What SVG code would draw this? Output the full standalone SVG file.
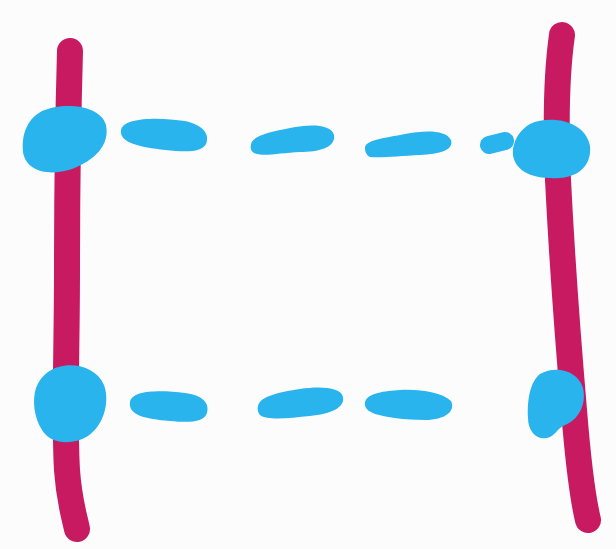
<svg xmlns="http://www.w3.org/2000/svg" width="616" height="549" viewBox="0 0 616 549">
<style>
.rail{fill:none;stroke:#c71a60;stroke-width:26;stroke-linecap:round;stroke-linejoin:round}
.dash{fill:none;stroke:#2ab4ee;stroke-linecap:round}
.blob{fill:#2ab4ee}
</style>
<rect width="616" height="549" fill="#fdfcfc"/>
<g id="rails">
<path class="rail" d="M70,51 C68,120 67,200 67,270 C67,350 64,420 67,470 C69,500 74,515 77,529"/>
<path class="rail" d="M562,35 C557,70 555,110 558,180 C562,260 568,340 574,410 C578,460 582,495 588,520"/>
</g>
<g id="connectors">
<path class="blob" d="M121,130 C123,117 160,117 185,121 C203,125 210,134 206,144 C201,153 185,152 165,150 C140,147 119,143 121,130 Z"/>
<path class="blob" d="M251,145 C251,136 270,132 290,128 C310,124 331,124 334,135 C336,147 320,152 300,152 C280,153 262,157 254,153 C251,151 250,148 251,145 Z"/>
<path class="blob" d="M365,148 C365,140 385,138 405,134 C425,130 446,130 451,140 C454,150 440,154 420,155 C400,156 382,158 370,157 C366,155 365,151 365,148 Z"/>
<path class="dash" stroke-width="18" d="M489,145 L505,141"/>
<path class="blob" d="M130,402 C132,390 160,390 185,393 C202,395 210,403 207,413 C204,422 190,423 170,421 C145,419 128,415 130,402 Z"/>
<path class="blob" d="M258,406 C260,396 280,392 300,389 C320,386 341,387 343,397 C345,408 330,414 310,416 C290,418 268,421 260,415 C258,413 257,409 258,406 Z"/>
<path class="blob" d="M365,402 C367,393 385,391 400,390 C420,389 441,392 451,401 C456,411 445,420 425,420 C405,420 385,417 375,414 C367,411 364,407 365,402 Z"/>
</g>
<g id="node-tl"><path class="blob" d="M42,111 C62,102 100,104 106,125 C110,145 95,160 72,169 C48,177 26,171 23,152 C21,132 29,118 42,111 Z"/></g>
<g id="node-tr"><path class="blob" d="M530,124 C550,115 585,120 590,146 C592,168 575,180 550,178 C526,178 511,166 513,149 C515,138 520,130 530,124 Z"/></g>
<g id="node-bl"><path class="blob" d="M48,372 C65,360 95,364 104,385 C110,402 104,425 88,436 C72,446 50,444 42,430 C34,418 32,400 36,388 C39,380 43,376 48,372 Z"/></g>
<g id="node-br"><path class="blob" d="M540,374 C555,365 578,370 583,388 C587,405 578,420 565,425 C558,428 556,434 550,437 C538,442 528,432 528,418 C527,400 530,382 540,374 Z"/></g>
</svg>
